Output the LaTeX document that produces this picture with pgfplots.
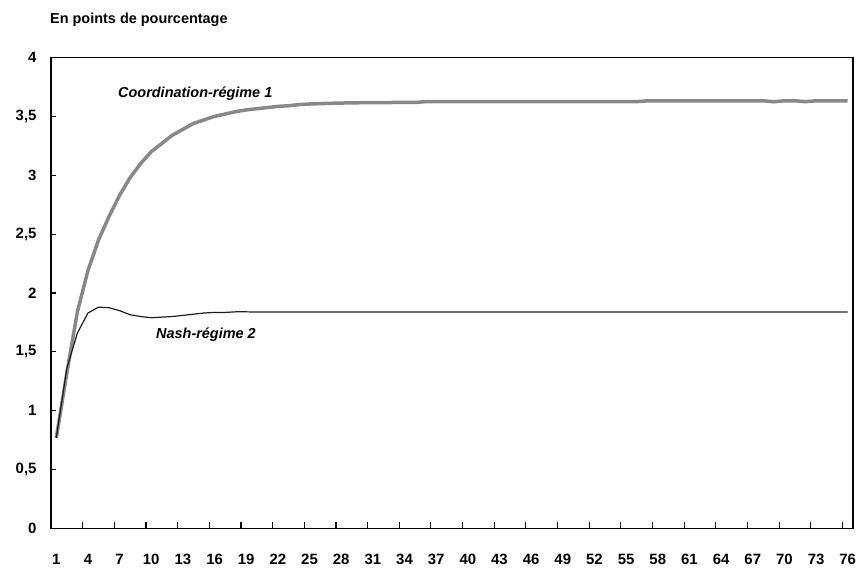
\documentclass[border=0pt]{standalone}
\usepackage{pgfplots}
\usepackage{pgfplotstable}
\pgfplotsset{compat=1.18}
\usepackage{fontspec}
\setmainfont{Liberation Sans}
\definecolor{coordgray}{RGB}{136,136,136}
\definecolor{nashblack}{RGB}{30,30,30}

\pgfplotstableread{
t coord nash
1 0.77 0.77
2 1.32 1.36
3 1.84 1.66
4 2.19 1.83
5 2.45 1.88
6 2.65 1.875
7 2.83 1.85
8 2.98 1.815
9 3.10 1.80
10 3.20 1.79
11 3.27 1.795
12 3.34 1.80
13 3.39 1.81
14 3.44 1.82
15 3.47 1.83
16 3.50 1.835
17 3.52 1.835
18 3.54 1.84
19 3.555 1.84
20 3.565 1.838
21 3.575 1.838
22 3.585 1.838
23 3.59 1.838
24 3.60 1.838
25 3.605 1.838
26 3.608 1.838
27 3.611 1.838
28 3.613 1.838
29 3.615 1.838
30 3.616 1.838
31 3.617 1.838
32 3.617 1.838
33 3.618 1.838
34 3.618 1.838
35 3.618 1.838
36 3.625 1.838
37 3.625 1.838
38 3.625 1.838
39 3.625 1.838
40 3.625 1.838
41 3.625 1.838
42 3.625 1.838
43 3.625 1.838
44 3.625 1.838
45 3.625 1.838
46 3.625 1.838
47 3.625 1.838
48 3.625 1.838
49 3.625 1.838
50 3.625 1.838
51 3.625 1.838
52 3.625 1.838
53 3.625 1.838
54 3.625 1.838
55 3.625 1.838
56 3.625 1.838
57 3.632 1.838
58 3.632 1.838
59 3.632 1.838
60 3.632 1.838
61 3.632 1.838
62 3.632 1.838
63 3.632 1.838
64 3.632 1.838
65 3.632 1.838
66 3.632 1.838
67 3.632 1.838
68 3.632 1.838
69 3.624 1.838
70 3.632 1.838
71 3.632 1.838
72 3.625 1.838
73 3.632 1.838
74 3.632 1.838
75 3.632 1.838
76 3.632 1.838
}\datatable

\begin{document}
\begin{tikzpicture}
\path[use as bounding box] (0,0) rectangle (862bp,572bp);
\node[anchor=base west, inner sep=0pt, font=\fontsize{14.5}{17}\selectfont\bfseries] at (50bp,548.7bp) {En points de pourcentage};
\begin{axis}[
  scale only axis,
  width=802bp, height=471bp,
  at={(51bp,43.5bp)}, anchor=south west,
  xmin=0.5, xmax=76.5,
  ymin=0, ymax=4,
  axis line style={line width=1.5bp, black},
  xtick={1,4,...,76},
  minor xtick={3.5,6.5,...,75.5},
  ytick={0,0.5,...,4},
  xtick pos=bottom, ytick pos=left,
  tick align=inside,
  major x tick style={draw=none},
  minor tick length=6bp,
  major tick length=5bp,
  tick style={line width=1.2bp, black},
  /pgf/number format/assume math mode=true,
  /pgf/number format/use comma,
  ticklabel style={font=\fontsize{15}{18}\selectfont\bfseries},
  yticklabel style={xshift=-11bp},
  xticklabel style={yshift=-22bp},
  clip=false,
]
\addplot[coordgray, line width=3.5bp, line join=round] table[x=t, y=coord] {\datatable};
\addplot[nashblack, line width=1.2bp, line join=round] table[x=t, y=nash] {\datatable};
\node[anchor=base west, inner sep=0pt, font=\fontsize{14.5}{17}\selectfont\bfseries\itshape] at (axis cs:6.85,3.66) {Coordination-régime 1};
\node[anchor=base west, inner sep=0pt, font=\fontsize{14.5}{17}\selectfont\bfseries\itshape] at (axis cs:10.45,1.61) {Nash-régime 2};
\end{axis}
\end{tikzpicture}
\end{document}
